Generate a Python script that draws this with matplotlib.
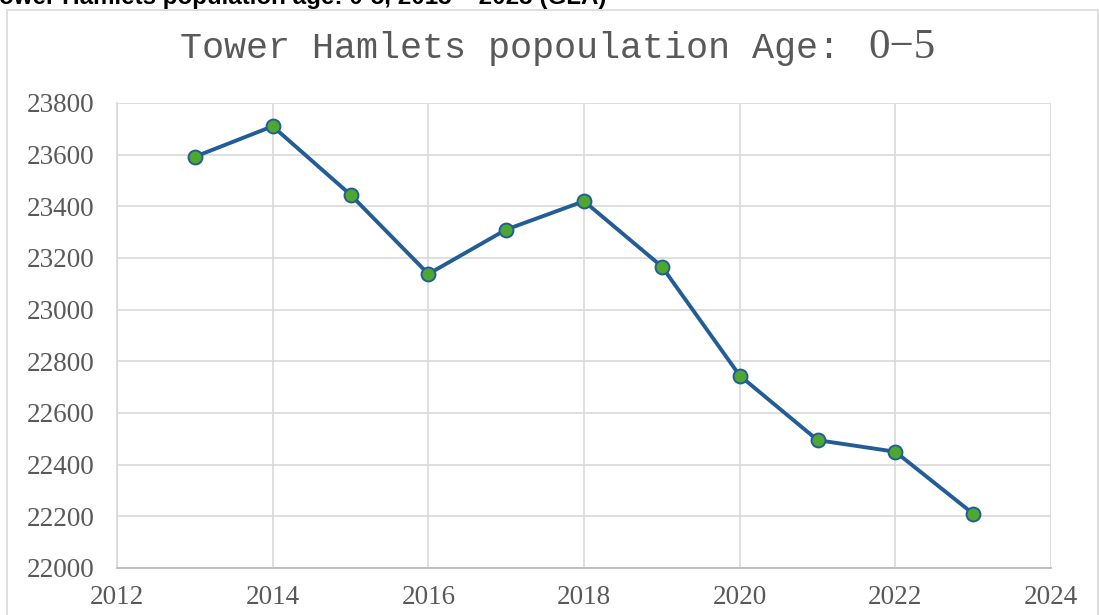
import matplotlib
matplotlib.use("Agg")
import matplotlib.pyplot as plt
from matplotlib.patches import Rectangle

years = [2013, 2014, 2015, 2016, 2017, 2018, 2019, 2020, 2021, 2022, 2023]
population = [23592, 23710, 23445, 23138, 23310, 23420, 23167, 22745, 22495, 22450, 22210]
x_ticks = [2012, 2014, 2016, 2018, 2020, 2022, 2024]
y_ticks = list(range(22000, 23801, 200))

grey_text = "#595959"
grid_col = "#d9d9d9"

fig = plt.figure(figsize=(10.99, 6.15), dpi=100)

# outer chart frame (partly cut by the figure edge)
fig.patches.append(Rectangle((7 / 1099, -0.1), 1091 / 1099, 1.1 - 10 / 615,
                             transform=fig.transFigure, fill=False,
                             edgecolor=grid_col, linewidth=1.2))

# header text cut at the top of the image, as in the source
fig.text(607 / 1099, 1 - 4 / 615,
         "Tower Hamlets population age: 0-5, 2013 \u2013 2023 (GLA)",
         ha="right", va="baseline", fontsize=17.4, fontweight="bold",
         family="Liberation Sans", color="black")

ax = fig.add_axes([117 / 1099, 1 - 568 / 615, 934 / 1099, 465 / 615])
ax.plot(years, population, color="#235d97", linewidth=2.8, marker="o",
        markersize=10, markerfacecolor="#4ea72e", markeredgecolor="#235d97",
        markeredgewidth=1.4, zorder=3)

ax.set_xlim(2012, 2024)
ax.set_ylim(22000, 23800)
ax.set_xticks(x_ticks)
ax.set_yticks(y_ticks)
ax.grid(True, color=grid_col, linewidth=1.2)
ax.set_axisbelow(True)
for side in ["top", "right"]:
    ax.spines[side].set_visible(False)
ax.spines["left"].set_color(grid_col)
ax.spines["bottom"].set_color("#bfbfbf")
ax.spines["left"].set_linewidth(1.2)
ax.spines["bottom"].set_linewidth(1.4)
ax.tick_params(length=0, labelsize=19.5, labelcolor=grey_text)
ax.tick_params(axis="y", pad=16)
ax.tick_params(axis="x", pad=12)
for lab in ax.get_xticklabels() + ax.get_yticklabels():
    lab.set_family("Liberation Serif")

# title: monospaced part followed by a serif "0-5"
t1 = fig.text(180 / 1099, 1 - 48 / 615, "Tower Hamlets popoulation Age: ",
              ha="left", va="center", fontsize=26.5, family="Liberation Mono",
              color=grey_text)
fig.canvas.draw()
bb = t1.get_window_extent()
fig.text(bb.x1 / fig.bbox.width + 0.006, 1 - 48 / 615, "0\u22125", ha="left",
         va="center", fontsize=31, family="Liberation Serif", color=grey_text)

fig.savefig("out.png", dpi=100)
